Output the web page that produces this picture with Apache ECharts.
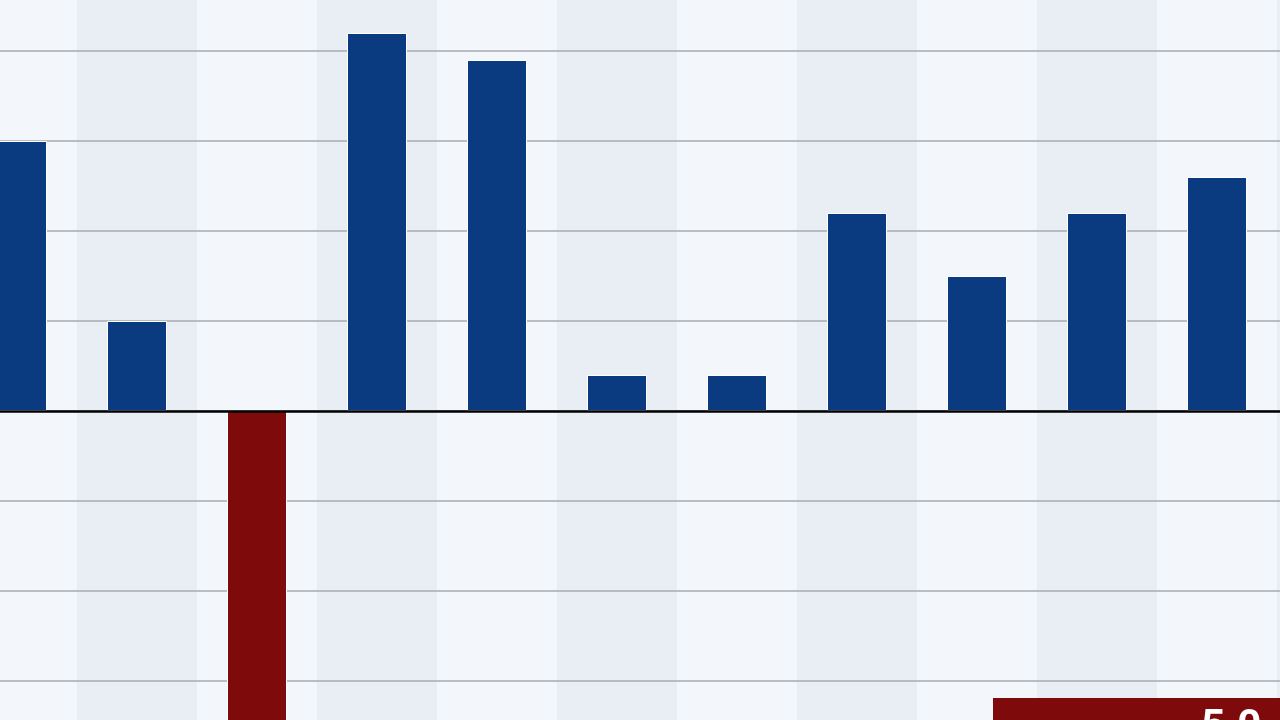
<!DOCTYPE html>
<html>
<head>
<meta charset="utf-8">
<script src="https://cdn.jsdelivr.net/npm/echarts@6/dist/echarts.min.js"></script>
<style>
    html, body { margin: 0; padding: 0; background: #f3f6fa; }
    #main { width: 1280px; height: 720px; }
</style>
</head>
<body>
<div id="main"></div>
<script>
// categories (no labels shown in the crop)
var categories = ['1', '2', '3', '4', '5', '6', '7', '8', '9', '10', '11', '12'];
// values, one grid step = 1
var values = [3.0, 1.0, -5.0, 4.2, 3.9, 0.4, 0.4, 2.2, 1.5, 2.2, 2.6, null];
var yTicks = { min: -5, max: 5, step: 1 };
var noteText = '5.0';

var myChart = echarts.init(document.getElementById('main'));

var barData = values.map(function(v) {
    return {
        value: v,
        itemStyle: { color: v < 0 ? '#7e0a0c' : '#0a3a7f' }
    };
});

myChart.setOption({
    backgroundColor: '#f3f6fa',
    animation: false,
    title: {
        text: noteText,
        left: 993,
        top: 698,
        backgroundColor: '#7e0a0c',
        padding: [9, 120, 30, 208],
        textStyle: {
            color: '#ffffff',
            fontFamily: 'Roboto',
            fontWeight: 'bold',
            fontSize: 42
        }
    },
    grid: {
        left: -43,
        right: -117,
        top: -39,
        bottom: -141,
        outerBoundsMode: 'none',
        containLabel: false
    },
    xAxis: {
        type: 'category',
        data: categories,
        z: 0,
        axisLine: { show: false },
        axisTick: { show: false },
        axisLabel: { show: false },
        splitArea: {
            show: true,
            areaStyle: { color: ['#f3f6fa', '#e9eef5'] }
        }
    },
    yAxis: {
        type: 'value',
        min: yTicks.min,
        max: yTicks.max,
        interval: yTicks.step,
        z: 1,
        axisLine: { show: false },
        axisTick: { show: false },
        axisLabel: { show: false },
        splitLine: { show: true, lineStyle: { color: '#a7abb0', width: 1.5 } }
    },
    series: [
        {
            type: 'bar',
            data: barData,
            barWidth: 60,
            z: 2,
            itemStyle: { borderColor: '#ffffff', borderWidth: 1 },
            markLine: {
                silent: true,
                symbol: 'none',
                label: { show: false },
                lineStyle: { color: '#000000', width: 2.5, type: 'solid' },
                emphasis: { disabled: true },
                data: [{ yAxis: 0 }]
            }
        }
    ]
});
</script>
</body>
</html>
